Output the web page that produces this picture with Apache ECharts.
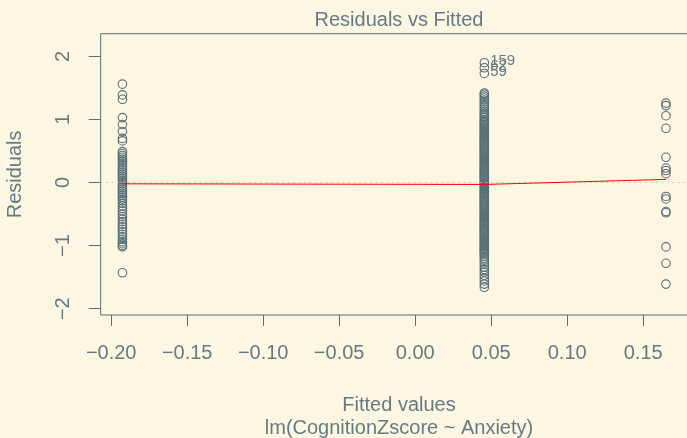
<!DOCTYPE html>
<html>
<head>
<meta charset="utf-8">
<script src="https://cdn.jsdelivr.net/npm/echarts@6/dist/echarts.min.js"></script>
<style>
html,body{margin:0;padding:0;background:#fdf6e3;}
#c{width:687px;height:438px;}
</style>
</head>
<body>
<div id="c"></div>
<script>
// ---- data ----
const fittedGroups = [-0.1926, 0.0455, 0.165];
const residLeft = [1.56, 1.39, 1.32, 1.03, 0.92, 0.81, 0.70, 0.66, 0.49, 0.46, 0.43, 0.40, 0.37, 0.34, 0.31, 0.28, 0.25, 0.22, 0.19, 0.16, 0.13, 0.10, 0.07, 0.04, 0.01, -0.02, -0.05, -0.08, -0.11, -0.14, -0.17, -0.20, -0.23, -0.26, -0.29, -0.33, -0.37, -0.41, -0.45, -0.50, -0.54, -0.58, -0.62, -0.66, -0.70, -0.74, -0.78, -0.82, -0.86, -0.90, -0.94, -0.97, -1.00, -1.02, -1.43];
const residMiddle = [1.90, 1.82, 1.73, 1.42, 1.40, 1.37, 1.34, 1.31, 1.28, 1.25, 1.22, 1.19, 1.16, 1.13, 1.10, 1.08, 1.05, 1.03, 1.00, 0.98, 0.96, 0.94, 0.92, 0.90, 0.88, 0.86, 0.84, 0.82, 0.80, 0.78, 0.76, 0.74, 0.72, 0.70, 0.68, 0.66, 0.64, 0.62, 0.60, 0.58, 0.56, 0.54, 0.52, 0.50, 0.48, 0.46, 0.44, 0.42, 0.40, 0.38, 0.36, 0.34, 0.32, 0.30, 0.28, 0.26, 0.24, 0.22, 0.20, 0.18, 0.16, 0.14, 0.12, 0.10, 0.08, 0.06, 0.04, 0.02, 0.00, -0.02, -0.04, -0.06, -0.08, -0.10, -0.12, -0.14, -0.16, -0.18, -0.20, -0.22, -0.24, -0.26, -0.28, -0.30, -0.32, -0.34, -0.36, -0.38, -0.40, -0.42, -0.44, -0.46, -0.48, -0.50, -0.52, -0.54, -0.56, -0.58, -0.60, -0.62, -0.64, -0.66, -0.68, -0.70, -0.72, -0.74, -0.76, -0.78, -0.80, -0.82, -0.84, -0.86, -0.88, -0.90, -0.92, -0.94, -0.96, -0.98, -1.00, -1.02, -1.04, -1.06, -1.08, -1.10, -1.12, -1.14, -1.17, -1.20, -1.23, -1.26, -1.30, -1.34, -1.38, -1.42, -1.47, -1.52, -1.56, -1.61, -1.66];
const middleLabels = ["159", "62", "59"]; // labels for the first three middle points
const residRight = [1.26, 1.22, 1.06, 0.86, 0.40, 0.23, 0.19, 0.14, -0.22, -0.26, -0.46, -0.48, -1.02, -1.28, -1.61];
const smoothX = [-0.1926, 0.0455, 0.165];
const smoothY = [-0.02, -0.03, 0.05];
const xTicks = [-0.20, -0.15, -0.10, -0.05, 0.00, 0.05, 0.10, 0.15];
const yTicks = [-2, -1, 0, 1, 2];

// ---- build ----
const TXT = '#657b83', PT = '#586e75', BG = '#fdf6e3';
const FONT = 'Liberation Sans, Arial, sans-serif';
const FS = 20;
const fmtNum = (v, d) => { const s = Math.abs(v).toFixed(d); return (v < 0 ? '\u2212' : '') + s; };

const pts = [];
residLeft.forEach(r => pts.push([fittedGroups[0], r]));
residMiddle.forEach((r, i) => {
  if (i < middleLabels.length) {
    pts.push({value: [fittedGroups[1], r], label: {show: true, formatter: middleLabels[i], position: 'right', distance: 1, offset: [0, -2], color: TXT, fontSize: 15, fontFamily: FONT}});
  } else pts.push([fittedGroups[1], r]);
});
residRight.forEach(r => pts.push([fittedGroups[2], r]));

const chart = echarts.init(document.getElementById('c'), null, {renderer: 'canvas'});
chart.setOption({
  backgroundColor: BG,
  animation: false,
  title: [
    {text: 'Residuals vs Fitted', left: 394, top: 5, textAlign: 'center', textStyle: {color: TXT, fontSize: FS, fontWeight: 'normal', fontFamily: FONT}},
    {text: 'Fitted values', left: 394, top: 390, textAlign: 'center', textStyle: {color: TXT, fontSize: FS, fontWeight: 'normal', fontFamily: FONT}},
    {text: 'lm(CognitionZscore ~ Anxiety)', left: 394, top: 413, textAlign: 'center', textStyle: {color: TXT, fontSize: FS, fontWeight: 'normal', fontFamily: FONT}}
  ],
  grid: {left: 100.7, top: 33.7, right: -1, bottom: 123, outerBoundsMode: 'none', containLabel: false, show: true, borderColor: PT, borderWidth: 1, backgroundColor: 'transparent'},
  xAxis: {
    type: 'value', min: -0.2069, max: 0.1795,
    splitLine: {show: false}, axisLine: {show: false, onZero: false},
    axisTick: {show: true, customValues: xTicks, length: 11, lineStyle: {color: PT}},
    axisLabel: {customValues: xTicks, formatter: v => fmtNum(v, 2), color: TXT, fontSize: FS, fontFamily: FONT, margin: 28}
  },
  yAxis: {
    type: 'value', min: -2.1, max: 2.36,
    name: 'Residuals', nameLocation: 'middle', nameGap: 75, nameRotate: 90,
    nameTextStyle: {color: TXT, fontSize: FS, fontFamily: FONT},
    splitLine: {show: false}, axisLine: {show: false, onZero: false},
    axisTick: {show: true, customValues: yTicks, length: 12, lineStyle: {color: PT}},
    axisLabel: {customValues: yTicks, formatter: v => fmtNum(v, 0), rotate: 90, color: TXT, fontSize: FS, fontFamily: FONT, margin: 27}
  },
  series: [
    {
      type: 'scatter', data: pts, symbol: 'circle', symbolSize: 8.5,
      itemStyle: {color: 'rgba(0,0,0,0)', borderColor: PT, borderWidth: 1.1, opacity: 1},
      markLine: {silent: true, symbol: 'none', label: {show: false},
        lineStyle: {color: '#bdbdb5', type: [1.5, 4], width: 1},
        data: [{yAxis: 0}]}
    },
    {
      type: 'line', data: smoothX.map((x, i) => [x, smoothY[i]]), showSymbol: false,
      lineStyle: {color: '#ff0000', width: 1}, z: 5
    }
  ]
});
</script>
</body>
</html>
